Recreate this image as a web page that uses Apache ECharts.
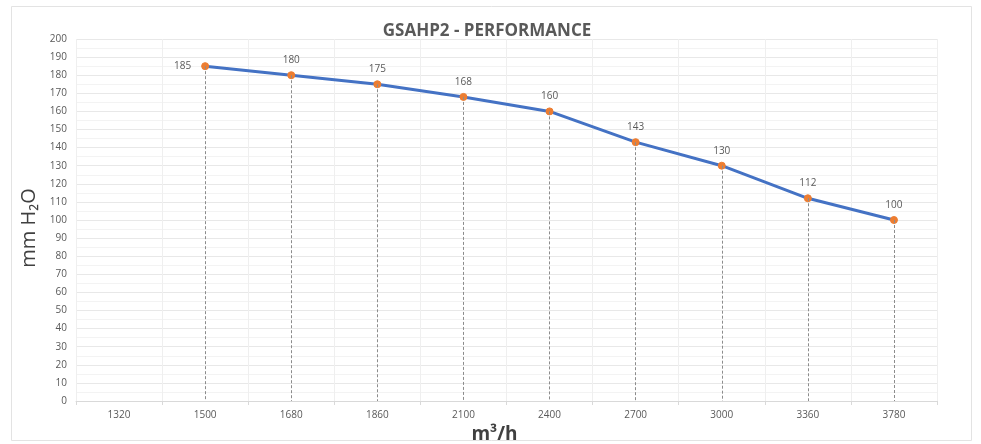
<!DOCTYPE html>
<html>
<head>
<meta charset="utf-8">
<style>
  html, body { margin: 0; padding: 0; background: #ffffff; }
  #chart { width: 981px; height: 444px; }
</style>
<script src="https://cdn.jsdelivr.net/npm/echarts@6/dist/echarts.min.js"></script>
</head>
<body>
<div id="chart"></div>
<script>
// Airflow (m³/h) categories and static pressure (mm H2O) readings
const flowCategories = ['1320', '1500', '1680', '1860', '2100', '2400', '2700', '3000', '3360', '3780'];
const pressureValues = [null, 185, 180, 175, 168, 160, 143, 130, 112, 100];
const yTicks = { min: 0, max: 200, interval: 10 };

const FONT = '"Open Sans", "Noto Sans", "Liberation Sans", sans-serif';

// vertical dashed drop lines from each point down to the axis
const dropLines = [];
flowCategories.forEach((c, i) => {
  const v = pressureValues[i];
  if (v !== null) dropLines.push([{ coord: [c, v] }, { coord: [c, 0] }]);
});

// data points, first one labelled on its left
const seriesData = pressureValues.map((v, i) => {
  if (v === null) return null;
  if (i === 1) {
    return { value: v, label: { position: 'left', distance: 10 } };
  }
  return v;
});

const chart = echarts.init(document.getElementById('chart'), null, { renderer: 'canvas' });
chart.setOption({
  backgroundColor: '#ffffff',
  animation: false,
  title: {
    text: 'GSAHP2 - PERFORMANCE',
    left: 482,
    top: 18,
    textAlign: 'center',
    textStyle: { fontFamily: FONT, fontSize: 17, fontWeight: 'bold', color: '#595959' }
  },
  graphic: [{
    type: 'rect',
    shape: { x: 11.5, y: 6.5, width: 960, height: 434 },
    style: { fill: 'none', stroke: '#e3e3e3', lineWidth: 1 },
    silent: true,
    z: -1
  }],
  grid: { left: 76, right: 44, top: 39, bottom: 43, containLabel: false, outerBoundsMode: 'none' },
  xAxis: {
    type: 'category',
    data: flowCategories,
    boundaryGap: true,
    name: 'm³/h',
    nameLocation: 'middle',
    nameGap: 22,
    nameTextStyle: { fontFamily: FONT, fontSize: 19, fontWeight: 'bold', color: '#404040', padding: [0, 24, 0, 0] },
    axisLine: { show: true, lineStyle: { color: '#d9d9d9', width: 1 } },
    axisTick: { show: true, length: 4, lineStyle: { color: '#d9d9d9' } },
    axisLabel: { fontFamily: FONT, fontSize: 10, color: '#595959', margin: 9 },
    splitLine: { show: true, lineStyle: { color: '#efefef', width: 1 } }
  },
  yAxis: {
    type: 'value',
    min: yTicks.min,
    max: yTicks.max,
    interval: yTicks.interval,
    name: 'mm H₂O',
    nameLocation: 'middle',
    nameRotate: 90,
    nameGap: 29,
    nameTextStyle: { fontFamily: FONT, fontSize: 20, color: '#404040', padding: [0, 16, 0, 0] },
    axisLine: { show: false },
    axisTick: { show: false },
    axisLabel: { fontFamily: FONT, fontSize: 10, color: '#595959', margin: 9 },
    splitLine: { show: true, lineStyle: { color: '#e8e8e8', width: 1 } },
    minorTick: { show: false, splitNumber: 2 },
    minorSplitLine: { show: true, lineStyle: { color: '#f3f3f3', width: 1 } }
  },
  series: [{
    type: 'line',
    data: seriesData,
    connectNulls: false,
    symbol: 'circle',
    symbolSize: 7,
    itemStyle: { color: '#ED7D31', borderColor: '#ED7D31' },
    lineStyle: { color: '#4472C4', width: 3 },
    label: {
      show: true,
      position: 'top',
      distance: 6,
      fontFamily: FONT,
      fontSize: 10,
      color: '#595959'
    },
    markLine: {
      silent: true,
      symbol: ['none', 'none'],
      label: { show: false },
      lineStyle: { color: '#8c8c8c', type: [3, 2], width: 1 },
      data: dropLines
    },
    z: 3
  }]
});
</script>
</body>
</html>
